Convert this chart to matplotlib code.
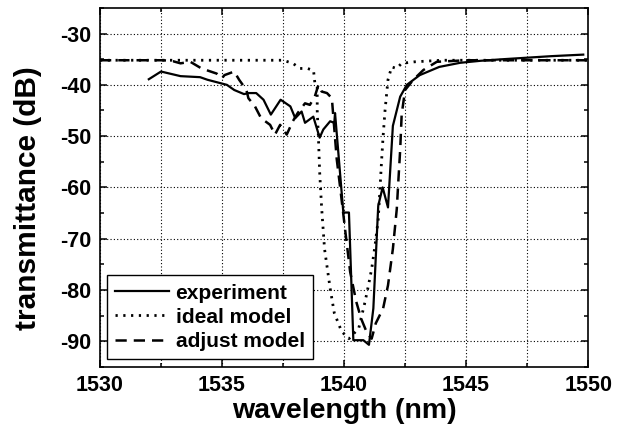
import matplotlib
matplotlib.use('Agg')
import matplotlib.pyplot as plt
from matplotlib.ticker import MultipleLocator

plt.rcParams['font.family'] = ['Liberation Sans', 'DejaVu Sans']
plt.rcParams['font.weight'] = 'bold'
plt.rcParams['axes.unicode_minus'] = False

# =========================
# DATA
# =========================
exp_wl = [1532.0, 1532.5, 1533.3, 1534.1, 1534.4, 1535.2, 1535.5, 1535.9, 1536.1, 1536.4,
          1536.7, 1537.0, 1537.4, 1537.8, 1538.0, 1538.26, 1538.4, 1538.74, 1539.0, 1539.15,
          1539.43, 1539.6, 1539.63, 1539.97, 1540.2, 1540.38, 1540.79, 1541.02, 1541.2, 1541.4,
          1541.58, 1541.8, 1542.0, 1542.3, 1542.57, 1543.1, 1543.9, 1544.75, 1545.6, 1546.5,
          1547.5, 1548.5, 1549.8]
exp_db = [-38.9, -37.4, -38.3, -38.5, -39.0, -40.0, -41.0, -41.8, -41.6, -41.6,
          -42.9, -45.8, -42.9, -44.2, -46.5, -45.2, -47.4, -46.2, -50.3, -48.7,
          -47.1, -47.4, -45.5, -64.9, -64.9, -89.8, -89.8, -90.7, -83.6, -63.6,
          -60.0, -63.9, -48.0, -42.3, -40.0, -38.1, -36.5, -35.7, -35.3, -35.0,
          -34.7, -34.4, -34.1]

ideal_wl = [1530.0, 1537.5, 1537.9, 1538.2, 1538.5, 1538.75, 1538.8, 1538.9, 1538.9, 1538.95,
            1539.0, 1539.08, 1539.2, 1539.43, 1539.6, 1539.9, 1540.2, 1540.6, 1540.86, 1541.0,
            1541.13, 1541.27, 1541.4, 1541.47, 1541.54, 1541.6, 1541.68, 1541.8, 1541.95, 1542.15,
            1542.36, 1542.9, 1544.0, 1550.0]
ideal_db = [-35.2, -35.2, -35.8, -36.8, -36.8, -37.2, -39.5, -40.0, -45.0, -50.3,
            -57.0, -63.9, -72.0, -79.7, -84.5, -88.1, -89.5, -87.5, -82.3, -79.1,
            -75.9, -71.3, -66.2, -60.4, -54.6, -50.0, -44.9, -39.0, -36.5, -36.8,
            -35.8, -35.5, -35.2, -35.2]

adj_wl = [1530.0, 1532.6, 1533.0, 1533.3, 1533.7, 1534.16, 1534.78, 1535.0, 1535.1, 1535.5,
          1535.7, 1536.0, 1536.08, 1536.35, 1536.6, 1536.97, 1537.17, 1537.38, 1537.65, 1537.9,
          1538.1, 1538.4, 1538.6, 1538.8, 1538.95, 1539.08, 1539.3, 1539.5, 1539.7, 1539.84,
          1540.04, 1540.25, 1540.5, 1540.7, 1540.95, 1541.13, 1541.3, 1541.6, 1541.8, 1542.0,
          1542.16, 1542.22, 1542.3, 1542.36, 1542.5, 1542.84, 1543.25, 1543.8, 1545.0, 1550.0]
adj_db = [-35.2, -35.2, -35.4, -35.8, -35.5, -36.8, -37.8, -38.7, -38.1, -37.4,
          -39.0, -41.0, -42.6, -44.2, -46.5, -47.8, -49.7, -47.8, -49.7, -47.1,
          -45.5, -43.6, -43.9, -42.3, -40.0, -41.3, -41.6, -42.6, -54.5, -60.0,
          -68.1, -76.5, -82.3, -85.6, -88.5, -89.5, -86.5, -83.6, -79.1, -72.0,
          -64.2, -59.1, -52.6, -45.8, -41.0, -39.0, -37.1, -35.5, -35.2, -35.2]

labels = ['experiment', 'ideal model', 'adjust model']

# =========================
# PLOT
# =========================
fig = plt.figure(figsize=(6.25, 4.42), dpi=100)
ax = fig.add_axes([0.16, 0.17, 0.781, 0.812])

ax.plot(exp_wl, exp_db, color='black', lw=1.6, ls='-', label=labels[0])
ax.plot(ideal_wl, ideal_db, color='black', lw=2.0, ls=(0, (0.8, 2.0)), label=labels[1])
ax.plot(adj_wl, adj_db, color='black', lw=1.8, ls=(0, (4.5, 2.8)), label=labels[2])

ax.set_xlim(1530, 1550)
ax.set_ylim(-95, -25)
ax.xaxis.set_major_locator(MultipleLocator(5))
ax.xaxis.set_minor_locator(MultipleLocator(2.5))
ax.yaxis.set_major_locator(MultipleLocator(10))
ax.yaxis.set_minor_locator(MultipleLocator(5))

ax.grid(True, which='major', axis='both', color='black', lw=0.8, ls=(0, (1, 2)))
ax.grid(True, which='minor', axis='x', color='black', lw=0.8, ls=(0, (1, 2)))

ax.tick_params(which='both', direction='in', top=True, right=True, width=1.1)
ax.tick_params(which='major', length=5, labelsize=15.5, pad=6)
ax.tick_params(which='minor', length=3)
for s in ax.spines.values():
    s.set_linewidth(1.2)

ax.set_xlabel('wavelength (nm)', fontsize=20.5, fontweight='bold', labelpad=1)
ax.set_ylabel('transmittance (dB)', fontsize=21.5, fontweight='bold')
ax.yaxis.set_label_coords(-0.118, 0.47)

leg = ax.legend(loc='lower left', bbox_to_anchor=(0.014, 0.021), borderaxespad=0,
                fontsize=15, handlelength=2.6, handletextpad=0.3, labelspacing=0.25,
                fancybox=False, framealpha=1, edgecolor='black', borderpad=0.4)
leg.get_frame().set_linewidth(1.0)
for t in leg.get_texts():
    t.set_fontweight('bold')

fig.savefig('out.png', dpi=100)
